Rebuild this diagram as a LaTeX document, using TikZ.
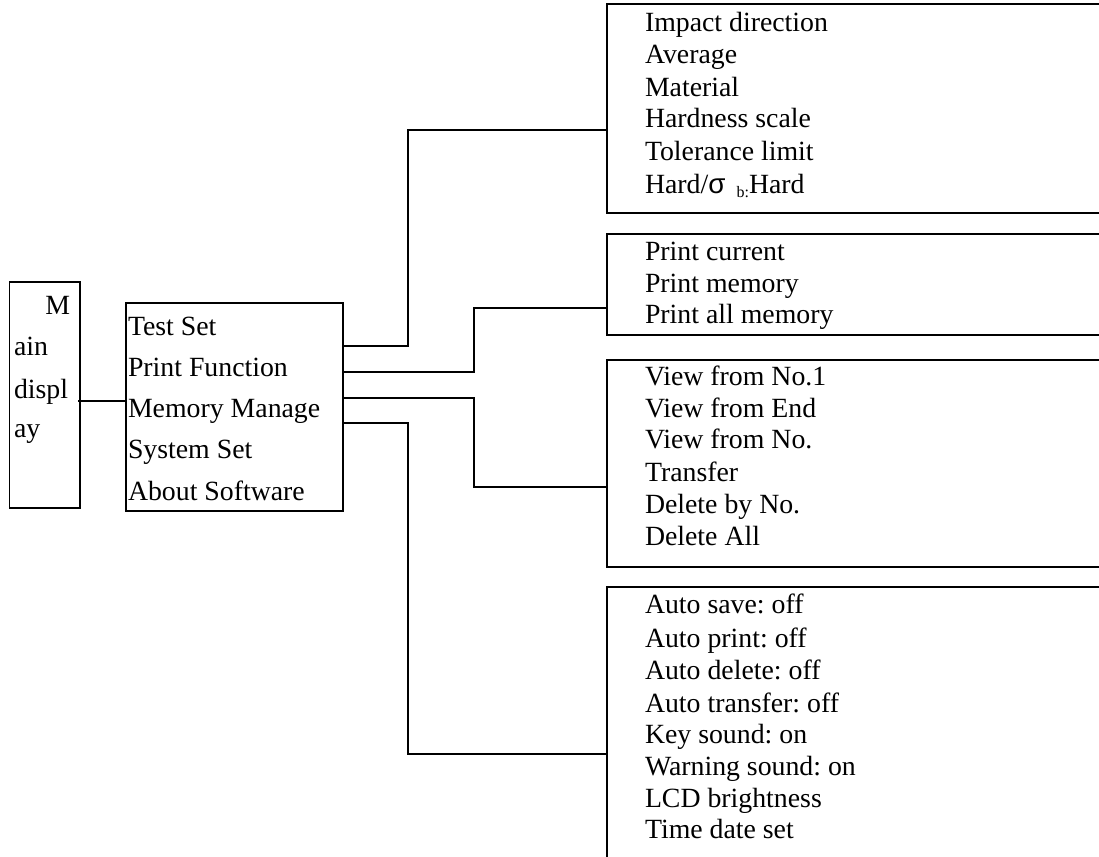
\documentclass[tikz,border=0pt]{standalone}
\usepackage{fontspec}
\setmainfont{Liberation Serif}
\newfontfamily\sigmafont{Liberation Sans}
\frenchspacing
\begin{document}
\begin{tikzpicture}[x=1pt,y=-1pt,
  frame/.style={draw=black,line width=1.4pt,fill=none},
  conn/.style={draw=black,line width=1.4pt},
  lbl/.style={inner sep=0pt,outer sep=0pt,anchor=base west,font=\fontsize{27.8}{32}\selectfont\frenchspacing},
  lble/.style={lbl,anchor=base east}]
\clip (0,0) rectangle (1099,856);
% boxes
\draw[frame] (9.5,282) rectangle (80,508);
\draw[frame] (126,303) rectangle (343,511);
\draw[frame] (607,4) rectangle (1115,213);
\draw[frame] (607,234) rectangle (1115,335);
\draw[frame] (607,360) rectangle (1115,567);
\draw[frame] (607,587) rectangle (1115,880);
% connection points
\coordinate (mdE) at (78,401);
\coordinate (mnW) at (126,401);
\coordinate (tsE) at (343,346);
\coordinate (pfE) at (343,372);
\coordinate (mmE) at (343,398);
\coordinate (ssE) at (343,423);
\coordinate (b1W) at (607,130);
\coordinate (b2W) at (607,308);
\coordinate (b3W) at (607,487);
\coordinate (b4W) at (607,754);
% connectors
\draw[conn] (mdE) -- (mnW);
\draw[conn] (tsE) -- (408,346) |- (b1W);
\draw[conn] (pfE) -- (474,372) |- (b2W);
\draw[conn] (mmE) -- (474,398) |- (b3W);
\draw[conn] (ssE) -- (408,423) |- (b4W);
% main display
\node[lble] (m1) at (70,314) {M};
\node[lbl] (m2) at (14,355) {ain};
\node[lbl] (m3) at (14,398) {displ};
\node[lbl] (m4) at (14,437) {ay};
% menu
\node[lbl] (n1) at (128,335) {Test Set};
\node[lbl] (n2) at (128,376) {Print Function};
\node[lbl] (n3) at (128,417) {Memory Manage};
\node[lbl] (n4) at (128,458) {System Set};
\node[lbl] (n5) at (128,500) {About Software};
% box 1
\node[lbl] (a1) at (645,32) {Impact direction};
\node[lbl] (a2) at (645,64) {Average};
\node[lbl] (a3) at (645,97) {Material};
\node[lbl] (a4) at (645,128) {Hardness scale};
\node[lbl] (a5) at (645,160) {Tolerance limit};
\node[lbl] (a6) at (645,193) {Hard/{\sigmafont σ}\hspace{0.4em}\raisebox{-0.15em}{\fontsize{16}{16}\selectfont b:}Hard};
% box 2
\node[lbl] (p1) at (645,260) {Print current};
\node[lbl] (p2) at (645,292) {Print memory};
\node[lbl] (p3) at (645,323) {Print all memory};
% box 3
\node[lbl] (v1) at (645,385) {View from No.1};
\node[lbl] (v2) at (645,417) {View from End};
\node[lbl] (v3) at (645,448) {View from No.};
\node[lbl] (v4) at (645,481) {Transfer};
\node[lbl] (v5) at (645,513) {Delete by No.};
\node[lbl] (v6) at (645,545) {Delete All};
% box 4
\node[lbl] (s1) at (645,613) {Auto save: off};
\node[lbl] (s2) at (645,647) {Auto print: off};
\node[lbl] (s3) at (645,679) {Auto delete: off};
\node[lbl] (s4) at (645,712) {Auto transfer: off};
\node[lbl] (s5) at (645,743) {Key sound: on};
\node[lbl] (s6) at (645,775) {Warning sound: on};
\node[lbl] (s7) at (645,807) {LCD brightness};
\node[lbl] (s8) at (645,838) {Time date set};
\end{tikzpicture}
\end{document}
